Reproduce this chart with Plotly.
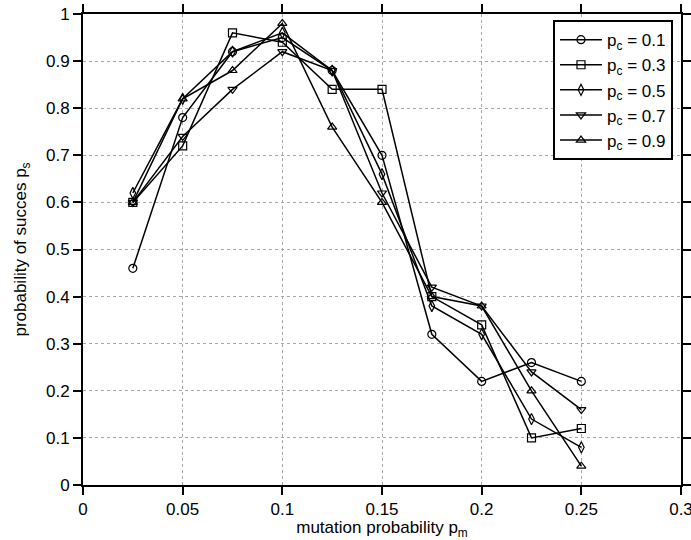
import plotly.graph_objects as go

x_pm = [0.025, 0.05, 0.075, 0.1, 0.125, 0.15, 0.175, 0.2, 0.225, 0.25]
ps_01 = [0.46, 0.78, 0.92, 0.95, 0.88, 0.70, 0.32, 0.22, 0.26, 0.22]
ps_03 = [0.60, 0.72, 0.96, 0.94, 0.84, 0.84, 0.40, 0.34, 0.10, 0.12]
ps_05 = [0.62, 0.82, 0.92, 0.96, 0.88, 0.66, 0.38, 0.32, 0.14, 0.08]
ps_07 = [0.60, 0.74, 0.84, 0.92, 0.88, 0.62, 0.42, 0.38, 0.24, 0.16]
ps_09 = [0.60, 0.82, 0.88, 0.98, 0.76, 0.60, 0.40, 0.38, 0.20, 0.04]
labels = ["p<sub>c</sub> = 0.1", "p<sub>c</sub> = 0.3", "p<sub>c</sub> = 0.5",
          "p<sub>c</sub> = 0.7", "p<sub>c</sub> = 0.9"]
symbols = ["circle-open", "square-open", "diamond-tall-open", "triangle-down-open", "triangle-up-open"]
series = [ps_01, ps_03, ps_05, ps_07, ps_09]
xtick_vals = [0, 0.05, 0.1, 0.15, 0.2, 0.25, 0.3]
xtick_text = ["0", "0.05", "0.1", "0.15", "0.2", "0.25", "0.3"]
ytick_vals = [0, 0.1, 0.2, 0.3, 0.4, 0.5, 0.6, 0.7, 0.8, 0.9, 1]
ytick_text = ["0", "0.1", "0.2", "0.3", "0.4", "0.5", "0.6", "0.7", "0.8", "0.9", "1"]

fig = go.Figure()
for ys, lab, sym in zip(series, labels, symbols):
    fig.add_trace(go.Scatter(
        x=x_pm, y=ys, mode="lines+markers", name=lab,
        line=dict(color="black", width=1.5),
        marker=dict(symbol=sym, size=8, color="black", line=dict(width=1.2, color="black")),
    ))

FAM = "Liberation Sans, Arial, sans-serif"
tfont = dict(family=FAM, size=17, color="black")
axis_common = dict(
    showline=True, linecolor="black", linewidth=2, mirror="ticks",
    ticks="outside", ticklen=8, tickwidth=2, tickcolor="black",
    showgrid=True, gridcolor="#a8a8a8", griddash="dot", gridwidth=1,
    zeroline=False, tickfont=tfont, automargin=False, ticklabeloverflow="allow",
)
fig.update_xaxes(range=[0, 0.3], tickvals=xtick_vals, ticktext=xtick_text,
                 title=dict(text="mutation probability p<sub>m</sub>", font=tfont),
                 **axis_common)
fig.update_yaxes(range=[0, 1], tickvals=ytick_vals, ticktext=ytick_text,
                 title=dict(text="probability of succes p<sub>s</sub>", font=tfont),
                 **axis_common)
fig.update_layout(
    width=691, height=540,
    margin=dict(l=83, r=10, t=14, b=55),
    paper_bgcolor="white", plot_bgcolor="white",
    font=tfont,
    showlegend=True,
    legend=dict(x=0.9866, y=0.987, xanchor="right", yanchor="top",
                bordercolor="black", borderwidth=2, bgcolor="white",
                font=dict(family=FAM, size=17, color="black"),
                tracegroupgap=0, itemwidth=42),
)
fig.write_html("out.html", config={"displayModeBar": False},
               post_script="document.body.style.margin='0';document.body.style.overflow='hidden';")
